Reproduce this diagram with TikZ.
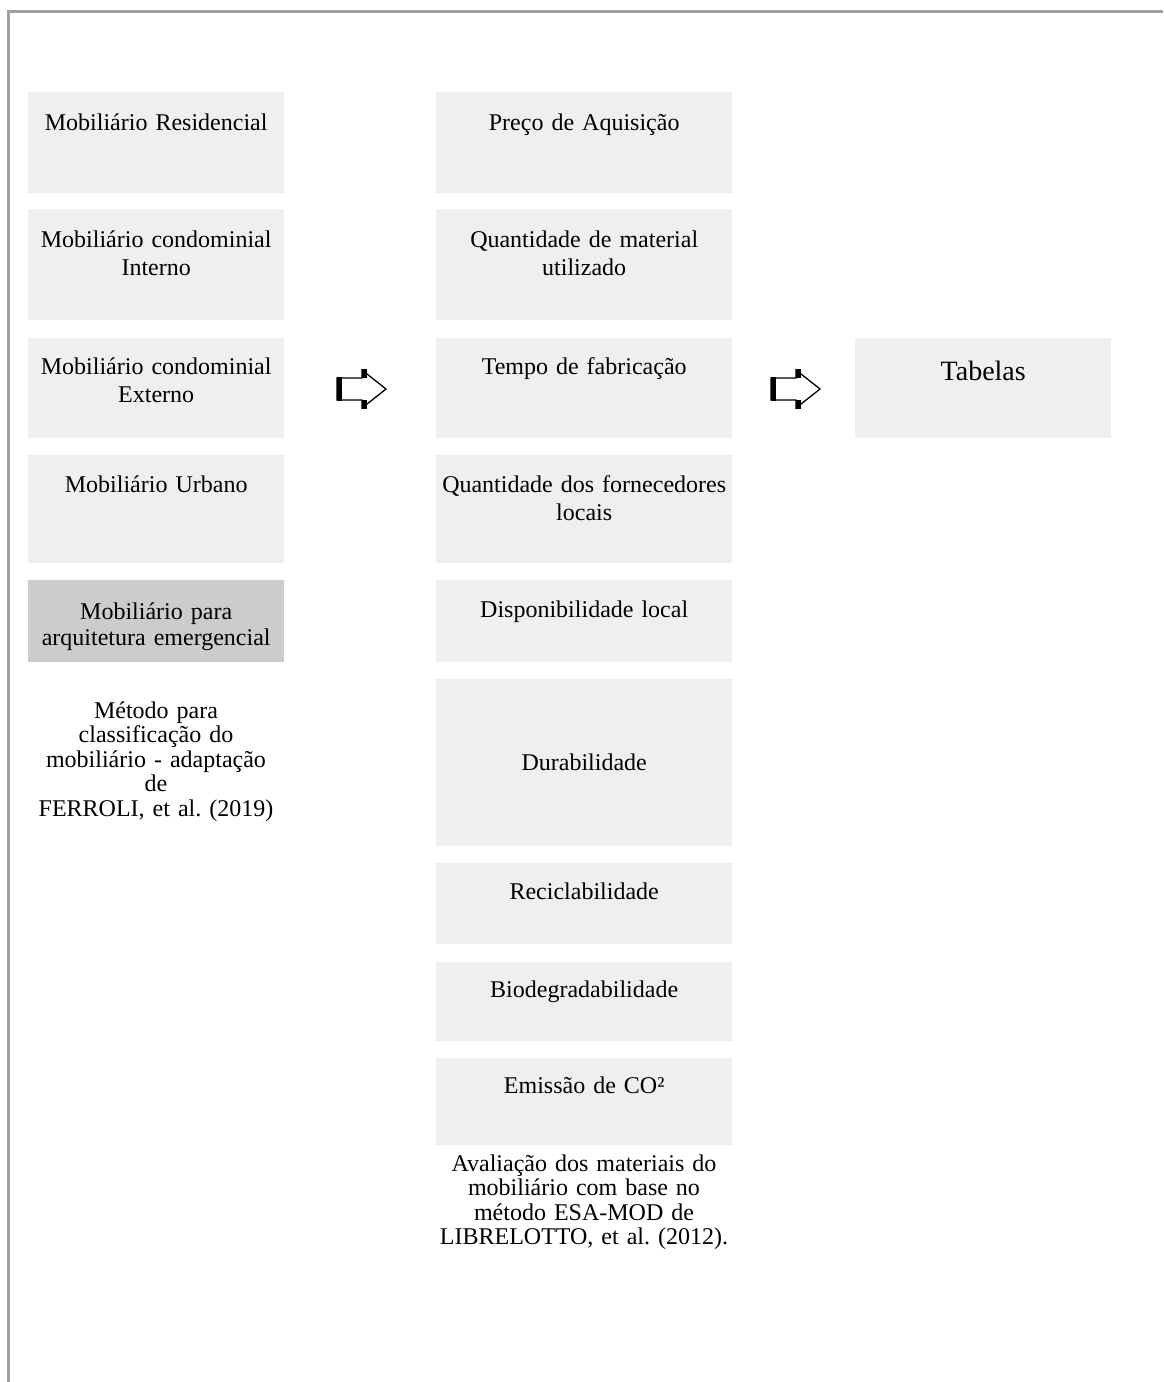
\documentclass[tikz,border=0pt]{standalone}
\usepackage{fontspec}
\setmainfont{Liberation Serif}
\definecolor{boxgray}{HTML}{EFEFEF}
\definecolor{darkbox}{HTML}{CCCCCC}
\definecolor{framegray}{HTML}{A0A0A0}
\frenchspacing
\begin{document}
\begin{tikzpicture}[x=1pt,y=-1pt,
  box/.style={fill=boxgray, draw=none, inner sep=0pt, anchor=north west, minimum width=#1},
  box/.default=256pt,
  txt/.style={font=\fontsize{24}{28}\selectfont, text width=#1, align=center, inner sep=0pt, anchor=base},
  txt/.default=250pt,
  cap/.style={font=\fontsize{24}{24.6}\selectfont, text width=#1, align=center, inner sep=0pt, anchor=base},
  blockarrow/.pic={
    \draw[line width=1.3pt, fill=white, line join=miter] (0,-11) -- (25,-11) -- (25,-19) -- (49,0) -- (25,19) -- (25,11) -- (0,11) -- cycle;
    \draw[line width=5pt] (2.5,-11.6) -- (2.5,11.6);
    \draw[line width=5pt] (27.5,-19.6) -- (27.5,-11);
    \draw[line width=5pt] (27.5,11) -- (27.5,19.6);
  }]
\useasboundingbox (0,0) rectangle (1163,1382);
% frame
\draw[framegray, line width=3pt] (8.5,1382) -- (8.5,11) -- (1163,11);
% left column
\node[box, minimum height=101pt] (l1) at (28,92) {};
\node[box, minimum height=111pt] (l2) at (28,209) {};
\node[box, minimum height=100pt] (l3) at (28,338) {};
\node[box, minimum height=108pt] (l4) at (28,455) {};
\node[box, minimum height=82pt, fill=darkbox] (l5) at (28,580) {};
\node[txt] (l1t) at ([yshift=-38pt]l1.north) {Mobiliário Residencial};
\node[txt] (l2t) at ([yshift=-38pt]l2.north) {Mobiliário condominial\\Interno};
\node[txt] (l3t) at ([yshift=-36pt]l3.north) {Mobiliário condominial\\Externo};
\node[txt] (l4t) at ([yshift=-37pt]l4.north) {Mobiliário Urbano};
\node[txt, font=\fontsize{24}{26.5}\selectfont] (l5t) at ([yshift=-39pt]l5.north) {Mobiliário para\\arquitetura emergencial};
\node[cap=250pt] (lcap) at (156,718) {Método para\\classificação do\\mobiliário - adaptação\\de\\FERROLI, et al. (2019)};
% middle column
\node[box=296pt, minimum height=101pt] (m1) at (436,92) {};
\node[box=296pt, minimum height=111pt] (m2) at (436,209) {};
\node[box=296pt, minimum height=100pt] (m3) at (436,338) {};
\node[box=296pt, minimum height=108pt] (m4) at (436,455) {};
\node[box=296pt, minimum height=82pt] (m5) at (436,580) {};
\node[box=296pt, minimum height=167pt] (m6) at (436,679) {};
\node[box=296pt, minimum height=81pt] (m7) at (436,863) {};
\node[box=296pt, minimum height=79pt] (m8) at (436,962) {};
\node[box=296pt, minimum height=87pt] (m9) at (436,1058) {};
\node[txt=290pt] (m1t) at ([yshift=-38pt]m1.north) {Preço de Aquisição};
\node[txt=290pt] (m2t) at ([yshift=-38pt]m2.north) {Quantidade de material\\utilizado};
\node[txt=290pt] (m3t) at ([yshift=-36pt]m3.north) {Tempo de fabricação};
\node[txt=290pt] (m4t) at ([yshift=-37pt]m4.north) {Quantidade dos fornecedores\\locais};
\node[txt=290pt] (m5t) at ([yshift=-37pt]m5.north) {Disponibilidade local};
\node[txt=290pt] (m6t) at ([yshift=-8pt]m6.center) {Durabilidade};
\node[txt=290pt] (m7t) at ([yshift=-36pt]m7.north) {Reciclabilidade};
\node[txt=290pt] (m8t) at ([yshift=-35pt]m8.north) {Biodegradabilidade};
\node[txt=290pt] (m9t) at ([yshift=-35pt]m9.north) {Emissão de CO²};
\node[cap=300pt] (mcap) at (584,1171) {Avaliação dos materiais do\\mobiliário com base no\\método ESA-MOD de\\LIBRELOTTO, et al. (2012).};
% right
\node[box, minimum height=100pt] (r1) at (855,338) {};
\node[txt=250pt, font=\fontsize{28}{32}\selectfont] (r1t) at ([yshift=-42pt]r1.north) {Tabelas};
% arrows
\pic at (337,389) {blockarrow};
\pic at (771,389) {blockarrow};
\end{tikzpicture}
\end{document}
